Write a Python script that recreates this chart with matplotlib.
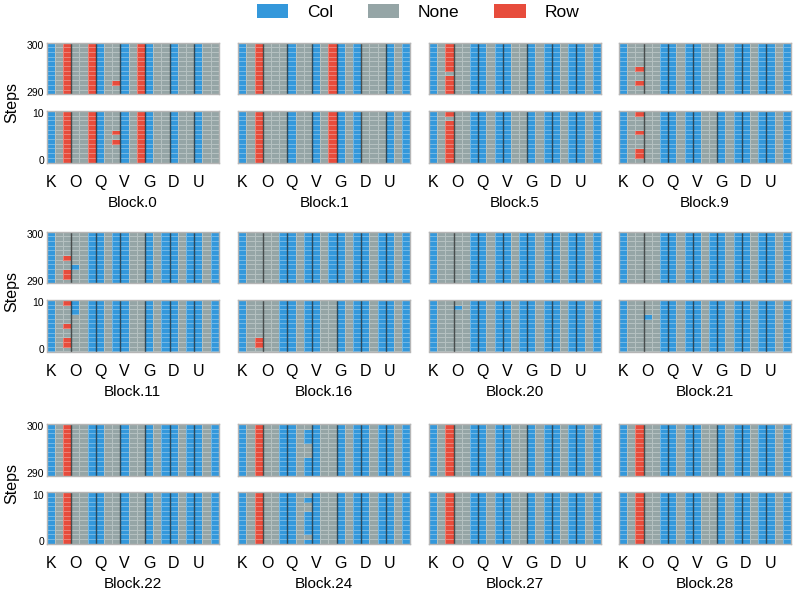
import matplotlib
matplotlib.use("Agg")
import matplotlib.pyplot as plt
import numpy as np
from matplotlib.colors import ListedColormap
from matplotlib.patches import Patch

plt.rcParams["font.family"] = ["Liberation Sans", "DejaVu Sans"]

STATES = ["Col", "None", "Row"]
STATE_COLORS = ["#3498db", "#95a5a6", "#e74c3c"]
GROUP_LABELS = ["K", "O", "Q", "V", "G", "D", "U"]
TOP_STEPS = list(range(290, 301))
BOTTOM_STEPS = list(range(0, 11))

block_names = ["Block.0", "Block.1", "Block.5", "Block.9",
               "Block.11", "Block.16", "Block.20", "Block.21",
               "Block.22", "Block.24", "Block.27", "Block.28"]

# one letter per column (3 columns per group): B = Col, G = None, R = Row
block_0 = "BGRGGRBGGBGRBGGBGGBGG"
block_1 = "BGRGGGBGGBGRBGBGGGBGB"
block_5 = "BGRGGBBGBBGGBGBBGBBGB"
block_9 = "BGGGGBBGBBGGBGBBGBBGB"
block_11 = "BGGGGBBGBBGGBGBBGBBGB"
block_16 = "BGGGGBBGBBGBBGBBGBBGB"
block_20 = "BGGGGBBGBBGBBGBBGBBGB"
block_21 = "BGGGGBBGBBGBBGBBGBBGB"
block_22 = "BGRGGBBGGBGGBGBBGBBGB"
block_24 = "BGRGGBBGBBGGBGBBGBBGB"
block_27 = "BGRGGBBGBBGGBGBBGBBGB"
block_28 = "BGRGGBBGBBGGBGBBGBBGB"

# cells that differ from the column pattern: (step, column, state)
changes_0 = [(292, 8, "R"), (6, 8, "R"), (4, 8, "R")]
changes_1 = []
changes_5 = [(294, 2, "G"), (9, 2, "G")]
changes_9 = [(295, 2, "R"), (292, 2, "R"), (10, 2, "R"), (6, 2, "R"), (2, 2, "R"), (1, 2, "R")]
changes_11 = [(295, 2, "R"), (293, 3, "B"), (292, 2, "R"), (291, 2, "R"),
              (10, 2, "R"), (10, 3, "B"), (9, 3, "B"), (8, 3, "B"),
              (5, 2, "R"), (2, 2, "R"), (1, 2, "R")]
changes_16 = [(2, 2, "R"), (1, 2, "R")] + [(s, 11, "G") for s in BOTTOM_STEPS]
changes_20 = [(9, 3, "B")]
changes_21 = [(7, 3, "B")]
changes_22 = []
changes_24 = [(300, 8, "G"), (296, 8, "G"), (295, 8, "G"), (294, 8, "G"),
              (10, 8, "G"), (8, 8, "G"), (7, 8, "G"), (1, 8, "G")]
changes_27 = []
changes_28 = []

patterns = [block_0, block_1, block_5, block_9, block_11, block_16,
            block_20, block_21, block_22, block_24, block_27, block_28]
changes = [changes_0, changes_1, changes_5, changes_9, changes_11, changes_16,
           changes_20, changes_21, changes_22, changes_24, changes_27, changes_28]

CODES = {"B": 0, "G": 1, "R": 2}


def state_grid(pattern, block_changes, steps):
    grid = np.tile([CODES[c] for c in pattern], (len(steps), 1))
    for step, col, state in block_changes:
        if step in steps:
            grid[steps.index(step), col] = CODES[state]
    return grid


W, H = 797, 592
fig = plt.figure(figsize=(W / 100, H / 100), dpi=100)
cmap = ListedColormap(STATE_COLORS)

col_left = [46.7, 238.3, 429.0, 619.0]
row_top = [42.7, 231.7, 424.0]
panel_w, panel_h, panel_gap = 172.0, 51.5, 16.8

for index, name in enumerate(block_names):
    r, c = divmod(index, 4)
    for part, steps in enumerate([TOP_STEPS, BOTTOM_STEPS]):
        top = row_top[r] + part * (panel_h + panel_gap)
        ax = fig.add_axes([col_left[c] / W, 1 - (top + panel_h) / H, panel_w / W, panel_h / H])
        grid = state_grid(patterns[index], changes[index], steps)
        x_edges = np.arange(grid.shape[1] + 1)
        y_edges = np.arange(len(steps) + 1) + steps[0] - 0.5
        ax.pcolormesh(x_edges, y_edges, grid, cmap=cmap, vmin=-0.5, vmax=2.5,
                      edgecolors=(1, 1, 1, 0.3), linewidth=0.6)
        for x in range(3, 21, 3):
            ax.axvline(x, color="black", alpha=0.6, linewidth=1.0)
        ax.set_xlim(0, grid.shape[1])
        ax.set_ylim(y_edges[0], y_edges[-1])
        for spine in ax.spines.values():
            spine.set_color("#b5b5b5")
            spine.set_linewidth(1.0)
        ax.tick_params(length=0)
        if c == 0:
            ax.set_yticks([steps[0], steps[-1]])
            ax.set_yticklabels([str(steps[0]), str(steps[-1])], fontsize=7.5)
            ax.tick_params(axis="y", pad=2)
        else:
            ax.set_yticks([])
        if part == 1:
            ax.set_xticks(np.arange(0, 21, 3) + 0.5)
            ax.set_xticklabels(GROUP_LABELS, fontsize=11.5)
            ax.tick_params(axis="x", pad=9)
            ax.set_xlabel(name, fontsize=11, labelpad=4)
        else:
            ax.set_xticks([])
    mid = row_top[r] + panel_h + panel_gap / 2
    if index % 4 == 0:
        fig.text(12 / W, 1 - mid / H, "Steps", rotation=90, ha="center", va="center", fontsize=11.5)

# legend is centred over the panel area, not the whole figure
handles = [Patch(facecolor=col, edgecolor="none") for col in STATE_COLORS]
fig.legend(handles, STATES, loc="center", bbox_to_anchor=(418 / W, 1 - 12 / H), ncol=3,
           frameon=False, fontsize=12.5, handlelength=1.8, handleheight=0.9,
           columnspacing=2.0, handletextpad=1.1)

fig.savefig("out.png", dpi=100)
